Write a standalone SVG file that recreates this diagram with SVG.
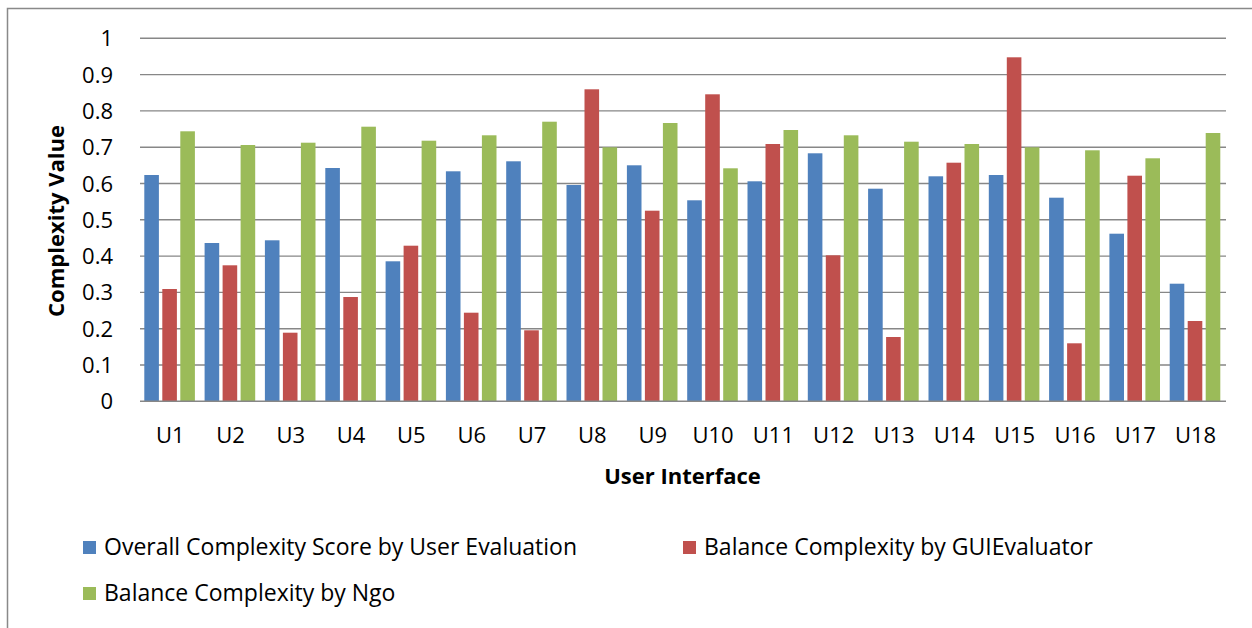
<svg xmlns="http://www.w3.org/2000/svg" width="1252" height="628" viewBox="0 0 1252 628">
<style>
.grid{stroke:#878787;stroke-width:1.4;fill:none}
.tick{font-family:"Open Sans","Liberation Sans",sans-serif;font-size:22px;fill:#000}
.ytick{text-anchor:end}
.xtick{text-anchor:middle}
.title{font-family:"Open Sans","Liberation Sans",sans-serif;font-size:22px;font-weight:bold;fill:#000;text-anchor:middle}
.leg{font-family:"Open Sans","Liberation Sans",sans-serif;font-size:23px;fill:#000}
.b{fill:#4F81BD}
.r{fill:#C0504D}
.g{fill:#9BBB59}
</style>
<rect x="0" y="0" width="1252" height="628" fill="#fff"/>
<rect x="7.5" y="8.5" width="1270" height="650" fill="#fff" stroke="#898989" stroke-width="1.5"/>
<g id="gridlines">
<path class="grid" d="M140 38.3H1226M140 74.6H1226M140 110.9H1226M140 147.2H1226M140 183.5H1226M140 219.8H1226M140 256.1H1226M140 292.4H1226M140 328.7H1226M140 365H1226"/>
</g>
<g id="y-axis-labels" class="tick ytick">
<text x="113" y="46.3">1</text>
<text x="113" y="82.6">0.9</text>
<text x="113" y="118.9">0.8</text>
<text x="113" y="155.2">0.7</text>
<text x="113" y="191.5">0.6</text>
<text x="113" y="227.8">0.5</text>
<text x="113" y="264.1">0.4</text>
<text x="113" y="300.4">0.3</text>
<text x="113" y="336.7">0.2</text>
<text x="113" y="373">0.1</text>
<text x="113" y="409.3">0</text>
</g>
<g id="series-user">
<rect class="b" x="144.3" y="175" width="14.6" height="226"/>
<rect class="b" x="204.6" y="243" width="14.6" height="158"/>
<rect class="b" x="264.9" y="240.3" width="14.6" height="160.7"/>
<rect class="b" x="325.3" y="168" width="14.6" height="233"/>
<rect class="b" x="385.6" y="261.3" width="14.6" height="139.7"/>
<rect class="b" x="445.9" y="171.3" width="14.6" height="229.7"/>
<rect class="b" x="506.2" y="161.3" width="14.6" height="239.7"/>
<rect class="b" x="566.5" y="185" width="14.6" height="216"/>
<rect class="b" x="626.9" y="165.3" width="14.6" height="235.7"/>
<rect class="b" x="687.2" y="200.3" width="14.6" height="200.7"/>
<rect class="b" x="747.5" y="181.3" width="14.6" height="219.7"/>
<rect class="b" x="807.8" y="153.3" width="14.6" height="247.7"/>
<rect class="b" x="868.1" y="188.7" width="14.6" height="212.3"/>
<rect class="b" x="928.5" y="176.3" width="14.6" height="224.7"/>
<rect class="b" x="988.8" y="175" width="14.6" height="226"/>
<rect class="b" x="1049.1" y="197.7" width="14.6" height="203.3"/>
<rect class="b" x="1109.4" y="233.7" width="14.6" height="167.3"/>
<rect class="b" x="1169.7" y="283.7" width="14.6" height="117.3"/>
</g>
<g id="series-guievaluator">
<rect class="r" x="162.3" y="289" width="14.6" height="112"/>
<rect class="r" x="222.6" y="265.3" width="14.6" height="135.7"/>
<rect class="r" x="282.9" y="332.7" width="14.6" height="68.3"/>
<rect class="r" x="343.3" y="297" width="14.6" height="104"/>
<rect class="r" x="403.6" y="245.7" width="14.6" height="155.3"/>
<rect class="r" x="463.9" y="312.7" width="14.6" height="88.3"/>
<rect class="r" x="524.2" y="330.3" width="14.6" height="70.7"/>
<rect class="r" x="584.5" y="89.3" width="14.6" height="311.7"/>
<rect class="r" x="644.9" y="210.7" width="14.6" height="190.3"/>
<rect class="r" x="705.2" y="94.3" width="14.6" height="306.7"/>
<rect class="r" x="765.5" y="144" width="14.6" height="257"/>
<rect class="r" x="825.8" y="255.3" width="14.6" height="145.7"/>
<rect class="r" x="886.1" y="337" width="14.6" height="64"/>
<rect class="r" x="946.5" y="162.7" width="14.6" height="238.3"/>
<rect class="r" x="1006.8" y="57.3" width="14.6" height="343.7"/>
<rect class="r" x="1067.1" y="343.3" width="14.6" height="57.7"/>
<rect class="r" x="1127.4" y="175.7" width="14.6" height="225.3"/>
<rect class="r" x="1187.7" y="321" width="14.6" height="80"/>
</g>
<g id="series-ngo">
<rect class="g" x="180.3" y="131.3" width="14.6" height="269.7"/>
<rect class="g" x="240.6" y="145" width="14.6" height="256"/>
<rect class="g" x="300.9" y="142.7" width="14.6" height="258.3"/>
<rect class="g" x="361.3" y="126.7" width="14.6" height="274.3"/>
<rect class="g" x="421.6" y="140.7" width="14.6" height="260.3"/>
<rect class="g" x="481.9" y="135.3" width="14.6" height="265.7"/>
<rect class="g" x="542.2" y="121.7" width="14.6" height="279.3"/>
<rect class="g" x="602.5" y="147.3" width="14.6" height="253.7"/>
<rect class="g" x="662.9" y="123" width="14.6" height="278"/>
<rect class="g" x="723.2" y="168.3" width="14.6" height="232.7"/>
<rect class="g" x="783.5" y="130" width="14.6" height="271"/>
<rect class="g" x="843.8" y="135.3" width="14.6" height="265.7"/>
<rect class="g" x="904.1" y="141.7" width="14.6" height="259.3"/>
<rect class="g" x="964.5" y="144" width="14.6" height="257"/>
<rect class="g" x="1024.8" y="147.3" width="14.6" height="253.7"/>
<rect class="g" x="1085.1" y="150.3" width="14.6" height="250.7"/>
<rect class="g" x="1145.4" y="158.3" width="14.6" height="242.7"/>
<rect class="g" x="1205.7" y="133" width="14.6" height="268"/>
</g>
<g id="x-axis">
<path class="grid" d="M140 401.3H1226"/>
</g>
<g id="x-axis-labels" class="tick xtick">
<text x="170.2" y="443">U1</text>
<text x="230.5" y="443">U2</text>
<text x="290.8" y="443">U3</text>
<text x="351.1" y="443">U4</text>
<text x="411.4" y="443">U5</text>
<text x="471.8" y="443">U6</text>
<text x="532.1" y="443">U7</text>
<text x="592.4" y="443">U8</text>
<text x="652.7" y="443">U9</text>
<text x="713" y="443">U10</text>
<text x="773.4" y="443">U11</text>
<text x="833.7" y="443">U12</text>
<text x="894" y="443">U13</text>
<text x="954.3" y="443">U14</text>
<text x="1014.6" y="443">U15</text>
<text x="1075" y="443">U16</text>
<text x="1135.3" y="443">U17</text>
<text x="1195.6" y="443">U18</text>
</g>
<g id="axis-titles">
<text class="title" transform="translate(64 221) rotate(-90)">Complexity Value</text>
<text class="title" x="682.5" y="484">User Interface</text>
</g>
<g id="legend">
<rect class="b" x="83" y="541" width="13" height="13"/>
<text class="leg" x="104" y="555">Overall Complexity Score by User Evaluation</text>
<rect class="r" x="683" y="541" width="13" height="13"/>
<text class="leg" x="704" y="555">Balance Complexity by GUIEvaluator</text>
<rect class="g" x="83" y="587" width="13" height="13"/>
<text class="leg" x="104" y="601">Balance Complexity by Ngo</text>
</g>
</svg>
